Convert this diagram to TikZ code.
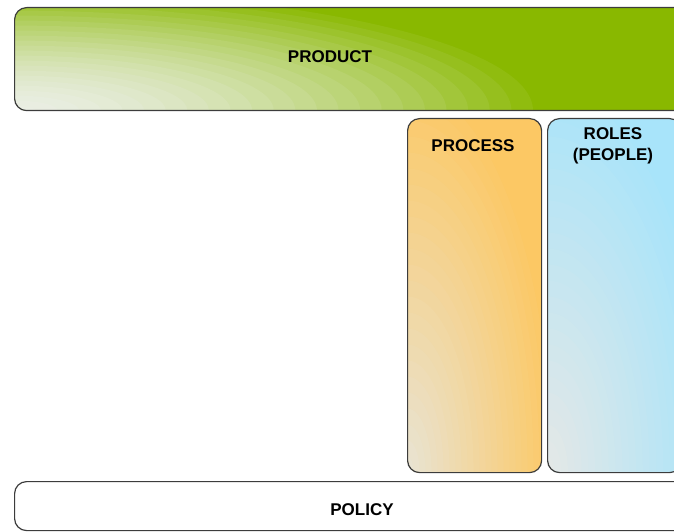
\documentclass[tikz,border=0pt]{standalone}
\usepackage{fontspec}
\setmainfont{Liberation Sans}
\definecolor{grsat}{RGB}{137,184,0}
\definecolor{grlight}{RGB}{234,238,228}
\definecolor{orsat}{RGB}{252,200,100}
\definecolor{orlight}{RGB}{232,228,214}
\definecolor{blsat}{RGB}{168,228,250}
\definecolor{bllight}{RGB}{230,232,230}
\definecolor{edge}{RGB}{60,60,60}
\tikzset{
  boxbase/.style={draw=edge, line width=1.2bp, rounded corners=12bp, rectangle, anchor=north west, inner sep=0pt},
  gradbox/.style n args={5}{boxbase, fill=#2, path picture={
      \foreach \i in {0,...,24}{
        \pgfmathsetmacro\t{1-\i/25}
        \pgfmathsetmacro\p{100*(\t^#5)}
        \pgfmathsetmacro\rx{#3*\t}
        \pgfmathsetmacro\ry{#4*\t}
        \fill[#2!\p!#1] (path picture bounding box.south west) ellipse [x radius=\rx bp, y radius=\ry bp];
      }}},
  lbl/.style={font=\fontsize{17bp}{21bp}\selectfont\bfseries, text=black, align=center, inner sep=0pt}
}
\begin{document}
\begin{tikzpicture}[x=1bp,y=-1bp]
\useasboundingbox (0,0) rectangle (674,532);
\node[gradbox={grlight}{grsat}{540}{125}{1.7}, minimum width=720bp, minimum height=103bp] (product) at (14,7) {};
\node[gradbox={orlight}{orsat}{150}{400}{1.0}, minimum width=134bp, minimum height=354bp] (process) at (407,118) {};
\node[gradbox={bllight}{blsat}{170}{400}{1.0}, minimum width=134bp, minimum height=354bp] (roles) at (547,118) {};
\node[boxbase, fill=white, minimum width=720bp, minimum height=49bp] (policy) at (14,481) {};
\node[lbl] (productlbl) at (330,57) {PRODUCT};
\node[lbl] (processlbl) at (473,146) {PROCESS};
\node[lbl] (roleslbl) at (613,146) {ROLES\\(PEOPLE)};
\node[lbl] (policylbl) at (362,510) {POLICY};
\end{tikzpicture}
\end{document}
